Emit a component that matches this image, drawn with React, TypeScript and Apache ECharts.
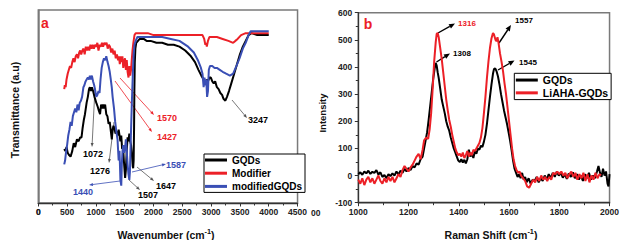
import React, { useEffect, useRef } from "react";
import * as echarts from "echarts";

const FONT = "'Liberation Sans', Arial, Helvetica, sans-serif";
const BLACK = "#000000";
const RED = "#ec2027";
const BLUE = "#3a4fb5";

// ---------- Panel a : FTIR (wavenumber cm-1, transmittance a.u.) ----------
const ftirSeriesNames = ["GQDs", "Modifier", "modifiedGQDs"];
const ftirXTicks = { min: 0, max: 4500, step: 500 };

const ftirGQDs: [number, number][] = [
  [450, 28], [470, 27], [490, 29], [510, 26], [530, 25], [560, 24], [590, 27], [615, 31], [640, 29],
  [671, 33], [700, 32], [727, 34], [750, 34], [770, 39], [790, 43], [810, 46], [839, 52], [860, 55],
  [880, 59], [895, 60], [915, 58], [930, 60], [951, 58], [975, 55], [1006, 52], [1030, 50], [1050, 48],
  [1072, 46], [1090, 51], [1110, 49], [1125, 51], [1145, 49], [1160, 51], [1180, 46], [1200, 45],
  [1220, 41], [1240, 42], [1260, 37], [1276, 33], [1290, 38], [1305, 40], [1320, 39], [1340, 36],
  [1360, 37], [1375, 35], [1395, 38], [1410, 35], [1425, 32], [1440, 35], [1455, 28], [1470, 30],
  [1485, 22], [1500, 16], [1507, 13], [1520, 17], [1535, 27], [1550, 34], [1565, 32], [1580, 36],
  [1595, 32], [1610, 30], [1625, 25], [1640, 19], [1647, 18], [1655, 22], [1662, 38], [1668, 59],
  [1675, 73], [1685, 80], [1700, 83], [1730, 84], [1760, 85], [1790, 85], [1830, 85], [1880, 84],
  [1950, 84], [2050, 83], [2150, 83], [2250, 82], [2350, 82], [2450, 81], [2550, 79], [2650, 76],
  [2720, 73], [2780, 69], [2830, 66], [2870, 64], [2900, 62], [2920, 64], [2945, 63], [2970, 65],
  [2995, 65], [3020, 63], [3045, 62], [3070, 63], [3100, 60], [3130, 59], [3160, 57], [3190, 56],
  [3215, 54], [3247, 53], [3275, 55], [3310, 58], [3350, 62], [3400, 67], [3450, 72], [3500, 77],
  [3550, 81], [3600, 84], [3650, 87], [3700, 88], [3800, 87], [3900, 87], [4000, 87],
];

const ftirModifier: [number, number][] = [
  [450, 59], [460, 61], [475, 60], [490, 64], [510, 67], [530, 69], [550, 71], [570, 70], [590, 73],
  [610, 75], [630, 73], [650, 76], [671, 77], [690, 75], [710, 78], [727, 79], [745, 77], [765, 79],
  [785, 80], [805, 77], [825, 81], [845, 79], [865, 81], [885, 79], [905, 82], [925, 80], [945, 82],
  [965, 80], [985, 82], [1006, 81], [1025, 83], [1045, 79], [1065, 82], [1085, 81], [1105, 83],
  [1125, 81], [1145, 83], [1165, 82], [1185, 83], [1205, 80], [1225, 82], [1245, 81], [1265, 78],
  [1286, 80], [1305, 77], [1325, 79], [1345, 75], [1365, 77], [1385, 74], [1400, 76], [1415, 72],
  [1430, 76], [1445, 73], [1460, 76], [1475, 70], [1490, 73], [1505, 75], [1520, 69], [1535, 74],
  [1550, 68], [1566, 65], [1580, 71], [1595, 66], [1610, 69], [1622, 74], [1635, 79], [1650, 83],
  [1670, 87], [1690, 88], [1720, 88], [1800, 88], [1900, 88], [2000, 87], [2200, 87], [2500, 87],
  [2700, 87], [2850, 87], [2880, 85], [2900, 82], [2915, 83], [2925, 81], [2945, 84], [2970, 86],
  [3000, 86], [3100, 86], [3200, 85], [3300, 84], [3382, 83], [3420, 84], [3460, 85], [3520, 87],
  [3600, 88], [3660, 88], [3800, 88], [4000, 88],
];

const ftirModifiedGQDs: [number, number][] = [
  [450, 20], [465, 22], [480, 26], [500, 30], [520, 35], [540, 38], [560, 42], [580, 40], [600, 45],
  [620, 47], [640, 49], [660, 47], [680, 51], [700, 48], [720, 52], [740, 53], [760, 55], [783, 60],
  [800, 61], [820, 63], [839, 64], [860, 65], [880, 64], [895, 66], [910, 64], [930, 66], [951, 63],
  [970, 61], [990, 58], [1006, 55], [1025, 56], [1045, 58], [1063, 57], [1080, 64], [1100, 70],
  [1120, 73], [1140, 75], [1160, 74], [1180, 76], [1202, 73], [1220, 71], [1240, 68], [1258, 64],
  [1275, 60], [1290, 55], [1314, 49], [1335, 42], [1355, 37], [1375, 33], [1395, 22], [1410, 27],
  [1425, 12], [1440, 9], [1450, 20], [1462, 27], [1475, 30], [1490, 26], [1505, 28], [1520, 33],
  [1535, 27], [1550, 20], [1565, 15], [1580, 12], [1590, 16], [1600, 27], [1612, 40], [1625, 53],
  [1640, 66], [1655, 77], [1670, 82], [1690, 84], [1720, 86], [1800, 86], [1900, 86], [2000, 86],
  [2150, 86], [2300, 85], [2450, 84], [2600, 81], [2700, 78], [2770, 74], [2823, 70], [2850, 67],
  [2870, 60], [2885, 65], [2900, 61], [2915, 64], [2930, 55], [2945, 58], [2960, 69], [2980, 71],
  [3020, 71], [3060, 70], [3100, 70], [3150, 69], [3200, 68], [3260, 67], [3326, 66], [3382, 67],
  [3440, 71], [3494, 75], [3550, 80], [3600, 83], [3650, 87], [3686, 89], [3800, 89], [3900, 89],
  [4000, 89],
];

// ---------- Panel b : Raman (shift cm-1, intensity) ----------
const ramanSeriesNames = ["GQDs", "LiAHA-GQDs"];
const ramanXTicks = { min: 1000, max: 2000, step: 200 };
const ramanYTicks = { min: -100, max: 600, step: 100 };

const ramanGQDs: [number, number][] = [
  [1000, 5], [1008, 12], [1016, 3], [1024, 15], [1032, 8], [1040, 18], [1048, 6], [1056, 14], [1064, 10],
  [1072, 20], [1080, 4], [1088, 12], [1096, -5], [1104, 2], [1112, -10], [1120, 5], [1128, -2], [1136, 8],
  [1144, 0], [1152, 15], [1160, 4], [1168, 18], [1176, 10], [1184, 25], [1192, 15], [1200, 28], [1208, 20],
  [1216, 35], [1224, 30], [1232, 45], [1240, 40], [1248, 60], [1256, 70], [1262, 100], [1268, 130],
  [1274, 160], [1280, 205], [1286, 255], [1292, 305], [1298, 355], [1304, 395], [1308, 415], [1312, 405],
  [1316, 380], [1320, 360], [1326, 320], [1332, 280], [1338, 255], [1344, 230], [1350, 200], [1356, 180],
  [1362, 165], [1368, 140], [1374, 120], [1380, 100], [1386, 85], [1392, 70], [1398, 55], [1404, 50],
  [1410, 60], [1416, 48], [1422, 58], [1428, 45], [1434, 60], [1440, 95], [1446, 70], [1452, 80],
  [1458, 65], [1464, 90], [1470, 80], [1476, 100], [1482, 95], [1488, 110], [1494, 105], [1500, 125],
  [1506, 150], [1512, 190], [1518, 240], [1524, 290], [1530, 335], [1536, 375], [1540, 392], [1545, 395],
  [1550, 385], [1556, 365], [1562, 335], [1568, 300], [1574, 270], [1580, 240], [1586, 215], [1592, 190],
  [1598, 160], [1604, 130], [1610, 95], [1616, 55], [1622, 25], [1628, 10], [1634, -5], [1640, 5],
  [1646, -10], [1652, 10], [1658, -15], [1664, -5], [1670, -25], [1678, -10], [1686, -30], [1694, -15],
  [1702, -20], [1710, -5], [1718, -25], [1726, -10], [1734, -20], [1742, 0], [1750, -15], [1758, 5],
  [1766, -10], [1774, 10], [1782, -5], [1790, 15], [1798, 0], [1806, 10], [1814, -8], [1822, 5],
  [1830, -12], [1838, 8], [1846, -5], [1854, 12], [1862, -10], [1870, 5], [1878, -15], [1886, 0],
  [1894, -20], [1902, 5], [1910, -10], [1918, 10], [1926, -15], [1934, 0], [1942, -10], [1950, 15],
  [1956, 35], [1962, 10], [1968, -5], [1974, 25], [1980, 0], [1986, 15], [1992, -30], [1996, -40],
  [2000, 5],
];

const ramanLiAHA: [number, number][] = [
  [1000, -15], [1008, -30], [1016, -10], [1024, -35], [1032, -15], [1040, -5], [1048, -25], [1056, -10],
  [1064, -30], [1072, -15], [1080, 0], [1088, -20], [1096, -30], [1104, -10], [1112, -25], [1120, -5],
  [1128, -20], [1136, -5], [1144, -25], [1152, -10], [1160, 5], [1168, -5], [1176, 20], [1184, 35],
  [1192, 25], [1200, 15], [1208, 30], [1216, 40], [1224, 55], [1232, 70], [1240, 80], [1248, 60],
  [1256, 95], [1262, 130], [1270, 140], [1278, 135], [1284, 170], [1290, 230], [1296, 320], [1302, 420],
  [1308, 490], [1312, 522], [1316, 525], [1320, 510], [1326, 470], [1332, 430], [1338, 380], [1344, 330],
  [1350, 280], [1356, 240], [1362, 205], [1368, 180], [1374, 150], [1380, 125], [1386, 100], [1392, 85],
  [1398, 75], [1404, 80], [1410, 70], [1416, 85], [1422, 65], [1428, 75], [1434, 90], [1440, 70],
  [1446, 85], [1452, 75], [1458, 95], [1464, 90], [1470, 100], [1476, 110], [1482, 120], [1488, 140],
  [1494, 175], [1500, 230], [1506, 290], [1512, 360], [1518, 420], [1524, 470], [1530, 505], [1536, 525],
  [1540, 520], [1546, 500], [1550, 495], [1554, 510], [1558, 490], [1564, 450], [1570, 420], [1576, 385],
  [1582, 340], [1588, 300], [1594, 250], [1600, 200], [1606, 150], [1612, 100], [1618, 60], [1624, 35],
  [1630, 20], [1636, 10], [1642, 15], [1648, 0], [1656, -10], [1664, -20], [1672, -40], [1680, -45],
  [1688, -30], [1696, -15], [1704, -25], [1712, -5], [1720, -20], [1728, 0], [1736, -15], [1744, -5],
  [1752, -20], [1760, -5], [1768, -15], [1776, 10], [1784, 5], [1792, 15], [1800, 5], [1808, 15],
  [1816, 0], [1824, 10], [1832, -10], [1840, 5], [1848, 15], [1856, -5], [1864, 10], [1872, -15],
  [1880, 5], [1888, -10], [1896, 10], [1904, -20], [1912, 5], [1920, -25], [1928, 0], [1936, -15],
  [1944, 10], [1952, -10], [1960, 5], [1966, 0],
];

// ---------- annotation layout (pixel positions within each panel) ----------
type Ann = { text: string; color: string; from: [number, number]; to: [number, number]; at: [number, number] };
const ftirAnnotations: Ann[] = [
  { text: "1072", color: BLACK, from: [95, 88], to: [92, 147], at: [93, 154] },
  { text: "1276", color: BLACK, from: [114, 122], to: [109, 163], at: [100, 171] },
  { text: "1570", color: RED, from: [120, 78], to: [154, 115], at: [167, 118] },
  { text: "1427", color: RED, from: [115, 81], to: [152, 132], at: [167, 137] },
  { text: "1587", color: BLUE, from: [132, 172], to: [166, 164], at: [176, 165] },
  { text: "1440", color: BLUE, from: [120, 181], to: [89, 185], at: [83, 192] },
  { text: "1507", color: BLACK, from: [129, 180], to: [140, 190], at: [148, 195] },
  { text: "1647", color: BLACK, from: [137, 167], to: [154, 181], at: [166, 186] },
  { text: "3247", color: BLACK, from: [232, 100], to: [247, 118], at: [258, 120] },
];
const ramanAnnotations: Ann[] = [
  { text: "1316", color: RED, from: [128, 33], to: [145, 23.5], at: [157, 23.5] },
  { text: "1308", color: BLACK, from: [126.5, 62], to: [140, 53.5], at: [152, 53.5] },
  { text: "1557", color: BLACK, from: [189, 43], to: [201, 25], at: [214, 20] },
  { text: "1545", color: BLACK, from: [188, 70], to: [204.5, 60.5], at: [218, 62] },
];

function arrow(from: number[], to: number[], color: string, width: number, headLen: number, headW: number) {
  const dx = to[0] - from[0];
  const dy = to[1] - from[1];
  const len = Math.hypot(dx, dy);
  const ux = dx / len;
  const uy = dy / len;
  const bx = to[0] - ux * headLen;
  const by = to[1] - uy * headLen;
  const px = (-uy * headW) / 2;
  const py = (ux * headW) / 2;
  return [
    { type: "line", silent: true, shape: { x1: from[0], y1: from[1], x2: bx, y2: by }, style: { stroke: color, lineWidth: width } },
    { type: "polygon", silent: true, shape: { points: [[to[0], to[1]], [bx + px, by + py], [bx - px, by - py]] }, style: { fill: color } },
  ];
}

function annGraphics(list: Ann[], lineColorFor: (c: string) => string, width: number, headLen: number, headW: number, fontSize: number) {
  const out: any[] = [];
  list.forEach((a) => {
    out.push(...arrow(a.from, a.to, lineColorFor(a.color), width, headLen, headW));
    out.push({
      type: "text",
      silent: true,
      x: a.at[0],
      y: a.at[1],
      style: { text: a.text, fill: a.color, font: `bold ${fontSize}px ${FONT}`, align: "center", verticalAlign: "middle" },
    });
  });
  return out;
}

function titleText(x: number, y: number, main: string, sup: string | null, tail: string, size: number, rotate = false) {
  const text = sup ? `{a|${main}}{s|${sup}}{a|${tail}}` : `{a|${main}}`;
  return {
    type: "text",
    silent: true,
    x,
    y,
    rotation: rotate ? Math.PI / 2 : 0,
    style: {
      text,
      align: "center",
      verticalAlign: "middle",
      rich: {
        a: { fontFamily: FONT, fontWeight: "bold", fontSize: size, fill: "#111", lineHeight: size + 4 },
        s: { fontFamily: FONT, fontWeight: "bold", fontSize: size * 0.7, fill: "#111", lineHeight: size, verticalAlign: "top" },
      },
    },
  };
}

const tickLabel = {
  fontFamily: FONT,
  fontWeight: "bold" as const,
  fontSize: 8.5,
  color: "#222",
  showMinLabel: true,
  showMaxLabel: true,
  hideOverlap: false,
  formatter: (v: number) => String(v),
};

function optionA(): any {
  const colors = [BLACK, RED, BLUE];
  const data = [ftirGQDs, ftirModifier, ftirModifiedGQDs];
  return {
    animation: false,
    grid: { left: 38.3, right: 2.5, top: 10, bottom: 37, show: true, borderColor: "#7a7a7a", borderWidth: 1.5, containLabel: false },
    xAxis: {
      type: "value",
      min: ftirXTicks.min,
      max: ftirXTicks.max,
      interval: ftirXTicks.step,
      axisLine: { show: true, onZero: false, lineStyle: { color: "#333", width: 1.3 } },
      axisTick: { show: true, length: 3.5, lineStyle: { color: "#333", width: 1 } },
      minorTick: { show: true, splitNumber: 2, length: 2.5, lineStyle: { color: "#333", width: 1 } },
      splitLine: { show: false },
      axisLabel: { ...tickLabel, alignMinLabel: "center", alignMaxLabel: "center", margin: 4 },
    },
    yAxis: {
      type: "value",
      min: 0,
      max: 100,
      axisLine: { show: true, onZero: false, lineStyle: { color: "#7a7a7a", width: 1.5 } },
      axisTick: { show: false },
      axisLabel: { show: false },
      splitLine: { show: false },
    },
    legend: {
      orient: "vertical",
      left: 204,
      top: 154,
      padding: [0, 3, 0, 1],
      itemGap: 1.2,
      itemWidth: 22,
      itemHeight: 3,
      icon: "rect",
      borderColor: "#000",
      borderWidth: 1,
      backgroundColor: "#fff",
      textStyle: { fontFamily: FONT, fontWeight: "bold", fontSize: 10, color: "#000", lineHeight: 12 },
      data: ftirSeriesNames,
    },
    series: ftirSeriesNames.map((name, i) => ({
      name,
      type: "line",
      data: data[i],
      showSymbol: false,
      symbol: "none",
      color: colors[i],
      lineStyle: { color: colors[i], width: 2 },
      clip: true,
    })),
    graphic: [
      { type: "text", silent: true, x: 45, y: 23, style: { text: "a", fill: RED, font: `bold 14px ${FONT}`, align: "center", verticalAlign: "middle" } },
      titleText(15, 110, "Transmittance (a.u)", null, "", 10.5, true),
      titleText(166, 235, "Wavenumber (cm", "-1", ")", 10.5),
      ...annGraphics(ftirAnnotations, (c) => (c === BLACK ? "#555" : c), 0.8, 4, 3, 9),
    ],
  };
}

function optionB(): any {
  const colors = [BLACK, RED];
  const data = [ramanGQDs, ramanLiAHA];
  return {
    animation: false,
    grid: { left: 48.3, right: 5.7, top: 12.7, bottom: 37.3, show: true, borderColor: "#7a7a7a", borderWidth: 1.5, containLabel: false },
    xAxis: {
      type: "value",
      min: ramanXTicks.min,
      max: ramanXTicks.max,
      interval: ramanXTicks.step,
      axisLine: { show: true, onZero: false, lineStyle: { color: "#333", width: 1.3 } },
      axisTick: { show: true, length: 3.5, lineStyle: { color: "#333", width: 1 } },
      minorTick: { show: true, splitNumber: 2, length: 2.5, lineStyle: { color: "#333", width: 1 } },
      splitLine: { show: false },
      axisLabel: { ...tickLabel, alignMinLabel: "center", alignMaxLabel: "center", margin: 5 },
    },
    yAxis: {
      type: "value",
      min: ramanYTicks.min,
      max: ramanYTicks.max,
      interval: ramanYTicks.step,
      axisLine: { show: true, onZero: false, lineStyle: { color: "#333", width: 1.3 } },
      axisTick: { show: true, length: 3.5, lineStyle: { color: "#333", width: 1 } },
      minorTick: { show: true, splitNumber: 2, length: 2.5, lineStyle: { color: "#333", width: 1 } },
      splitLine: { show: false },
      axisLabel: { ...tickLabel, margin: 6 },
    },
    legend: {
      orient: "vertical",
      left: 204.3,
      top: 73.3,
      padding: [0.5, 3, 0.5, 1.5],
      itemGap: 0.3,
      itemWidth: 22,
      itemHeight: 3,
      icon: "rect",
      borderColor: "#000",
      borderWidth: 1,
      backgroundColor: "#fff",
      textStyle: { fontFamily: FONT, fontWeight: "bold", fontSize: 10.5, color: "#000", lineHeight: 12.5 },
      data: ramanSeriesNames,
    },
    series: ramanSeriesNames.map((name, i) => ({
      name,
      type: "line",
      data: data[i],
      showSymbol: false,
      symbol: "none",
      color: colors[i],
      lineStyle: { color: colors[i], width: 2 },
      clip: true,
    })),
    graphic: [
      { type: "text", silent: true, x: 58, y: 24, style: { text: "b", fill: RED, font: `bold 14px ${FONT}`, align: "center", verticalAlign: "middle" } },
      { type: "text", silent: true, x: 1, y: 212.7, style: { text: "00", fill: "#222", font: `bold 8.5px ${FONT}`, align: "left", verticalAlign: "middle" } },
      titleText(12.7, 113, "Intensity", null, "", 9.5, true),
      titleText(181, 235, "Raman Shift (cm", "-1", ")", 10.5),
      ...annGraphics(ramanAnnotations, () => BLACK, 1.4, 6, 5, 8),
    ],
  };
}

export default function App() {
  const refA = useRef<HTMLDivElement>(null);
  const refB = useRef<HTMLDivElement>(null);

  useEffect(() => {
    const a = echarts.init(refA.current!, undefined, { renderer: "svg" });
    const b = echarts.init(refB.current!, undefined, { renderer: "svg" });
    a.setOption(optionA());
    b.setOption(optionB());
    return () => {
      a.dispose();
      b.dispose();
    };
  }, []);

  return (
    <div style={{ position: "fixed", left: 0, top: 0, width: 622, height: 240, background: "#fff", overflow: "hidden" }}>
      <div ref={refA} style={{ position: "absolute", left: 0, top: 0, width: 310, height: 240, overflow: "hidden" }} />
      <div ref={refB} style={{ position: "absolute", left: 310, top: 0, width: 312, height: 240, background: "#fff" }} />
      <span
        style={{
          position: "absolute",
          left: 38.3,
          top: 206,
          transform: "translateX(-50%)",
          fontFamily: FONT,
          fontWeight: "bold",
          fontSize: 8.5,
          lineHeight: "12px",
          color: "#222",
          zIndex: 5,
        }}
      >
        {String(ftirXTicks.min)}
      </span>
    </div>
  );
}
